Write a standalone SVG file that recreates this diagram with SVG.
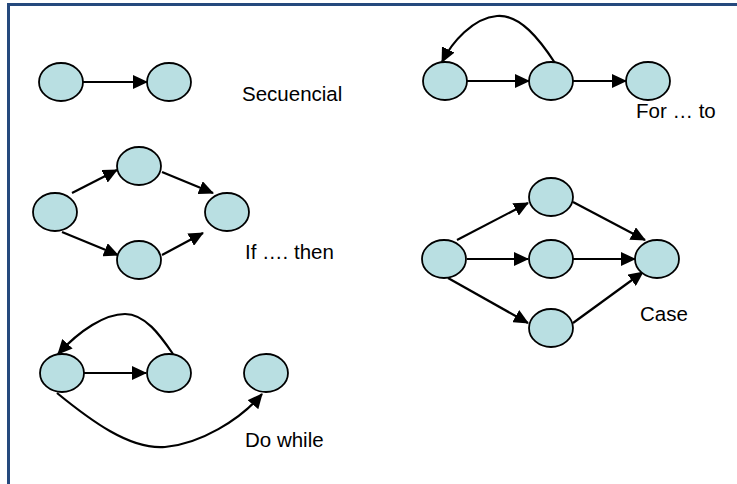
<svg xmlns="http://www.w3.org/2000/svg" width="737" height="484" viewBox="0 0 737 484">
<style>
.n{fill:#B9DFE2;stroke:#000;stroke-width:1.8}
.c path{fill:none;stroke:#000;stroke-width:2.2;marker-end:url(#ah)}
text{font-family:"Liberation Sans",Arial,sans-serif;font-size:20.5px;fill:#000}
</style>
<defs>
<marker id="ah" viewBox="0 0 15 14" refX="14" refY="7" markerWidth="15" markerHeight="14" markerUnits="userSpaceOnUse" orient="auto">
<path d="M0,0 L15,7 L0,14 z" fill="#000"/>
</marker>
</defs>
<rect width="737" height="484" fill="#fff"/>
<path d="M8.5,484 V4.5 H737" fill="none" stroke="#25497D" stroke-width="3"/>
<g class="c" id="connectors">
<path d="M83,82 L147,82"/>
<path d="M467,81 L529,81"/>
<path d="M573,81 L626,81"/>
<path d="M555,63 C540,40 520,14 497,16 C473,18 452,42 442,62"/>
<path d="M72,193 L117,170"/>
<path d="M162,172 L213,193"/>
<path d="M62,232 L118,255"/>
<path d="M162,255 L203,233"/>
<path d="M457,240 L528,203"/>
<path d="M467,259 L528,259"/>
<path d="M448,278 L528,323"/>
<path d="M573,202 L645,240"/>
<path d="M573,259 L635,259"/>
<path d="M573,323 L643,272"/>
<path d="M84,373 L146,373"/>
<path d="M173,354 C160,335 145,314 125,314 C105,314 80,330 58,354"/>
<path d="M57,393 C90,420 130,450 165,447 C200,444 240,420 262,394"/>
</g>
<g id="seq1"><ellipse class="n" cx="61" cy="82" rx="22" ry="19"/></g>
<g id="seq2"><ellipse class="n" cx="169" cy="82" rx="22" ry="19"/></g>
<g id="for1"><ellipse class="n" cx="445" cy="81" rx="22" ry="19"/></g>
<g id="for2"><ellipse class="n" cx="551" cy="81" rx="22" ry="19"/></g>
<g id="for3"><ellipse class="n" cx="648" cy="81" rx="22" ry="19"/></g>
<g id="if1"><ellipse class="n" cx="55" cy="212" rx="22" ry="19"/></g>
<g id="if2"><ellipse class="n" cx="139" cy="166" rx="22" ry="19"/></g>
<g id="if3"><ellipse class="n" cx="139" cy="260" rx="22" ry="19"/></g>
<g id="if4"><ellipse class="n" cx="227" cy="212" rx="22" ry="19"/></g>
<g id="case1"><ellipse class="n" cx="444" cy="259" rx="22" ry="19"/></g>
<g id="case2"><ellipse class="n" cx="551" cy="197" rx="22" ry="19"/></g>
<g id="case3"><ellipse class="n" cx="551" cy="259" rx="22" ry="19"/></g>
<g id="case4"><ellipse class="n" cx="551" cy="328" rx="22" ry="19"/></g>
<g id="case5"><ellipse class="n" cx="657" cy="259" rx="22" ry="19"/></g>
<g id="do1"><ellipse class="n" cx="62" cy="373" rx="22" ry="19"/></g>
<g id="do2"><ellipse class="n" cx="169" cy="373" rx="22" ry="19"/></g>
<g id="do3"><ellipse class="n" cx="266" cy="373" rx="22" ry="19"/></g>
<g id="labels">
<text x="242" y="101">Secuencial</text>
<text x="636" y="118">For … to</text>
<text x="245" y="259">If …. then</text>
<text x="640" y="321">Case</text>
<text x="245" y="447">Do while</text>
</g>
</svg>
